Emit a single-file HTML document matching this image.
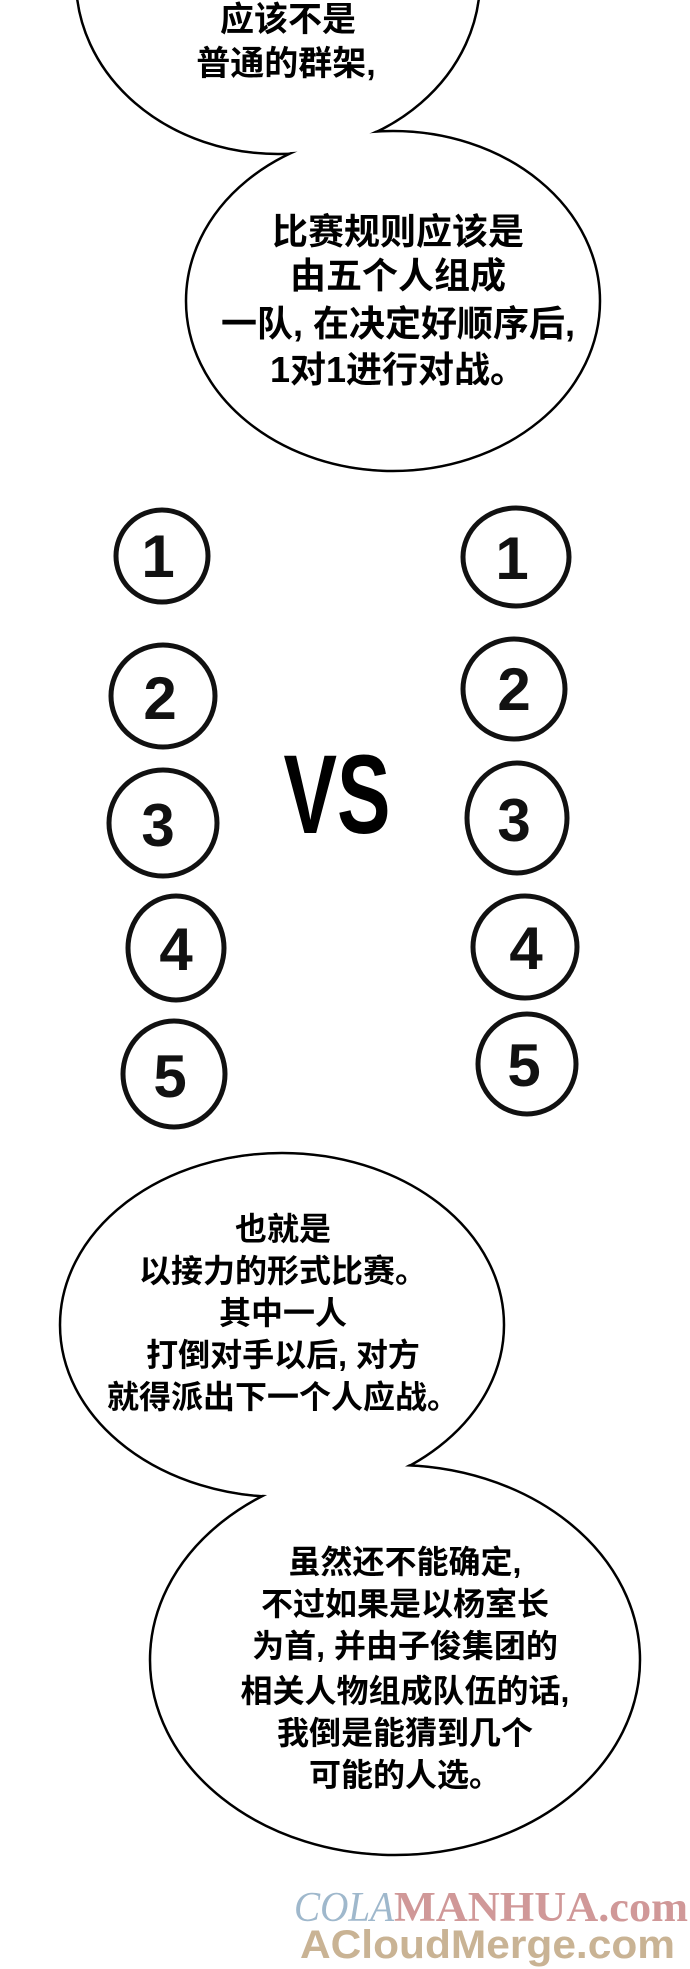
<!DOCTYPE html>
<html><head><meta charset="utf-8"><style>
html,body{margin:0;padding:0;background:#fff;}
svg{display:block;}
.t{font-family:"Liberation Sans","Noto Sans CJK SC",sans-serif;font-weight:bold;fill:#000;text-anchor:middle;}
.n{font-family:"Liberation Sans",sans-serif;font-weight:bold;fill:#111;text-anchor:middle;}
</style></head><body>
<svg width="690" height="1969" viewBox="0 0 690 1969" xmlns="http://www.w3.org/2000/svg">
<rect width="690" height="1969" fill="#fff"/>
<g fill="#fff" stroke="#000" stroke-width="2.5">
<ellipse cx="278" cy="-20" rx="202" ry="174"/>
<ellipse cx="393" cy="301" rx="207" ry="170"/>
</g>
<ellipse cx="278" cy="-20" rx="200.5" ry="172.5" fill="#fff"/>
<ellipse cx="393" cy="301" rx="205.5" ry="168.5" fill="#fff"/>
<text class="t" font-size="34" x="288" y="31">应该不是</text>
<text class="t" font-size="34" x="286" y="75">普通的群架,</text>
<text class="t" font-size="36" x="398" y="244">比赛规则应该是</text>
<text class="t" font-size="36" x="398" y="288">由五个人组成</text>
<text class="t" font-size="36" x="398" y="336">一队, 在决定好顺序后,</text>
<text class="t" font-size="36" x="398" y="382">1对1进行对战。</text>

<g fill="none" stroke="#111" stroke-width="5">
<ellipse cx="162" cy="556" rx="46" ry="46"/>
<ellipse cx="163" cy="696" rx="52" ry="51"/>
<ellipse cx="163" cy="823" rx="54" ry="53"/>
<ellipse cx="176" cy="948" rx="48" ry="52"/>
<ellipse cx="174" cy="1074" rx="51" ry="53"/>
<ellipse cx="516" cy="557" rx="53" ry="49"/>
<ellipse cx="514" cy="689" rx="51" ry="50"/>
<ellipse cx="517" cy="818" rx="50" ry="55"/>
<ellipse cx="525" cy="947" rx="52" ry="51"/>
<ellipse cx="527" cy="1064" rx="49" ry="50"/>
</g>
<g class="n" font-size="60">
<text x="158" y="577">1</text><text x="160" y="719">2</text><text x="158" y="846">3</text><text x="176" y="970">4</text><text x="170" y="1097">5</text>
<text x="512" y="579">1</text><text x="514" y="710">2</text><text x="514" y="841">3</text><text x="526" y="969">4</text><text x="524" y="1086">5</text>
</g>
<text class="t" font-size="112" x="337" y="833" textLength="107" lengthAdjust="spacingAndGlyphs">VS</text>

<g fill="#fff" stroke="#000" stroke-width="2.5">
<ellipse cx="282" cy="1325" rx="222" ry="172"/>
<ellipse cx="395" cy="1660" rx="245" ry="195"/>
</g>
<ellipse cx="282" cy="1325" rx="220.5" ry="170.5" fill="#fff"/>
<ellipse cx="395" cy="1660" rx="243.5" ry="193.5" fill="#fff"/>
<g class="t" font-size="32">
<text x="283" y="1240">也就是</text>
<text x="283" y="1282">以接力的形式比赛。</text>
<text x="283" y="1324">其中一人</text>
<text x="283" y="1366">打倒对手以后, 对方</text>
<text x="283" y="1408">就得派出下一个人应战。</text>
<text x="405" y="1573">虽然还不能确定,</text>
<text x="405" y="1615">不过如果是以杨室长</text>
<text x="405" y="1657">为首, 并由子俊集团的</text>
<text x="405" y="1702">相关人物组成队伍的话,</text>
<text x="405" y="1744">我倒是能猜到几个</text>
<text x="405" y="1786">可能的人选。</text>
</g>
<text x="294" y="1921" font-family="Liberation Serif,serif" font-size="42" fill="#9fb8cc" font-style="italic" textLength="100" lengthAdjust="spacingAndGlyphs">COLA</text>
<text x="394" y="1921" font-family="Liberation Serif,serif" font-size="42" font-weight="bold" fill="#d09898" textLength="294" lengthAdjust="spacingAndGlyphs">MANHUA.com</text>
<text x="300" y="1958" font-family="Liberation Sans,sans-serif" font-size="40" font-weight="bold" fill="#c9b394" textLength="375" lengthAdjust="spacingAndGlyphs">ACloudMerge.com</text>
</svg>
</body></html>
